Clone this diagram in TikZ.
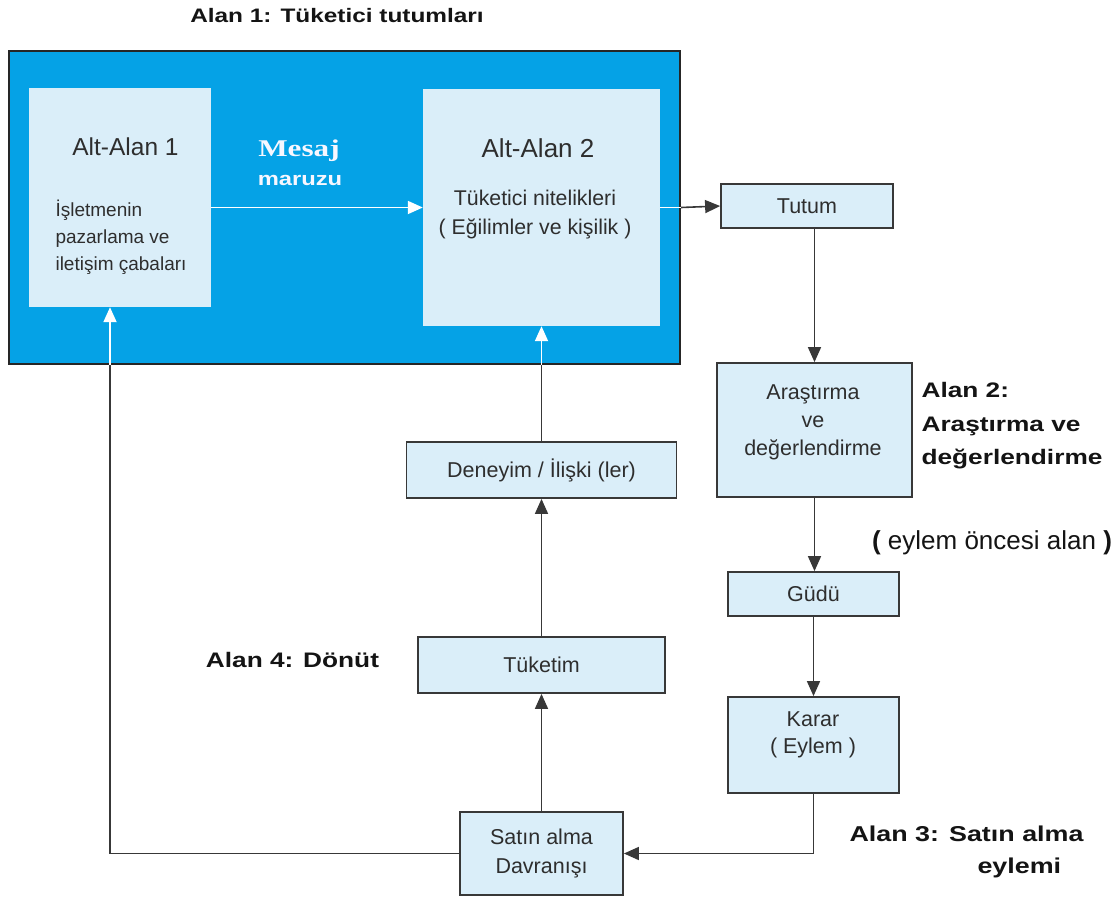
\documentclass[tikz,border=0pt]{standalone}
\usepackage{fontspec}
\setmainfont{Liberation Sans}
% the bold labels are set in a widened face
\newfontfamily\widesans[FakeStretch=1.25]{Liberation Sans}
\newfontfamily\wideserif[FakeStretch=1.3]{Liberation Serif}
\usetikzlibrary{arrows.meta,calc}

\definecolor{outerblue}{HTML}{05A2E6}
\definecolor{paleblue}{HTML}{DAEEF9}
\definecolor{edgegray}{HTML}{383838}
\definecolor{textgray}{HTML}{2E2E2E}

\begin{document}
\begin{tikzpicture}[x=1pt,y=-1pt,
  box/.style={draw=edgegray, line width=1.8pt, fill=paleblue, inner sep=0pt,
    font=\fontsize{21.5}{29}\selectfont, align=center, text=textgray},
  boxtext/.style={font=\fontsize{21.5}{28}\selectfont, align=center, text=textgray},
  subarea/.style={fill=paleblue, draw=none, inner sep=0pt},
  flow/.style={draw=edgegray, line width=1.6pt, -{Triangle[length=15pt,width=13pt]}},
  plainline/.style={draw=edgegray, line width=1.6pt},
  wflow/.style={draw=white, line width=1.8pt, -{Triangle[length=15pt,width=13pt]}},
  wline/.style={draw=white, line width=1.8pt},
  zone/.style={font=\widesans\fontsize{21}{33.5}\selectfont\bfseries, text=black!92},
]
\useasboundingbox (0,0) rectangle (1118,897);
\fill[white] (0,0) rectangle (1118,897);

% heading of the first area
\node[font=\widesans\fontsize{19.5}{22}\selectfont\bfseries, text=black!92] (title)
  at (337,16) {Alan 1: Tüketici tutumları};

% area 1 with its two sub-areas
\node[draw=black!85, line width=2pt, fill=outerblue, minimum width=671pt,
  minimum height=313pt, inner sep=0pt] (outer) at (344.5,207.5) {};
\node[subarea, minimum width=182pt, minimum height=219pt] (alt1) at (120,197.5) {};
\node[subarea, minimum width=237pt, minimum height=237pt] (alt2) at (541.5,207.5) {};

\node[font=\fontsize{24.5}{28}\selectfont, text=textgray] (alt1head) at (125.5,147) {Alt-Alan 1};
\node[anchor=west, align=left, font=\fontsize{19}{27}\selectfont, text=textgray]
  (alt1text) at (52,237) {İşletmenin\\pazarlama ve\\iletişim çabaları};
\node[font=\fontsize{26}{28}\selectfont, text=textgray] (alt2head) at (538,148) {Alt-Alan 2};
\node[align=center, font=\fontsize{21.3}{29}\selectfont, text=textgray]
  (alt2text) at (535,215) {Tüketici nitelikleri\\( Eğilimler ve kişilik )};

\node[font=\wideserif\fontsize{24}{26}\selectfont\bfseries, text=white!97!blue] (mesaj)
  at (299,151) {Mesaj};
\node[font=\widesans\fontsize{19}{22}\selectfont\bfseries, text=white!97!blue] (maruz)
  at (300,180) {maruzu};

% process boxes
\node[box, minimum width=172pt, minimum height=44pt] (tutum) at (807,206) {Tutum};
\node[box, minimum width=195pt, minimum height=134pt] (arastirma) at (814.5,430) {};
\node[boxtext] (arastirmatext) at (813,422) {Araştırma\\ve\\değerlendirme};
\node[box, minimum width=171pt, minimum height=44pt] (gudu) at (813.5,594) {Güdü};
\node[box, minimum width=171pt, minimum height=96pt] (karar) at (813.5,745) {};
\node[boxtext, font=\fontsize{21.5}{27}\selectfont] (karartext) at (813,735) {Karar\\( Eylem )};
\node[box, minimum width=163pt, minimum height=83pt] (satin) at (541.5,853.5) {Satın alma\\Davranışı};
\node[box, minimum width=247pt, minimum height=56pt] (tuketim) at (541.5,665) {Tüketim};
\node[box, minimum width=270pt, minimum height=56pt] (deneyim) at (541.5,470) {Deneyim / İlişki (ler)};

% area labels
\node[zone, anchor=west, align=left] (alan2) at (918,426) {Alan 2:\\Araştırma ve\\değerlendirme};
\node[font=\fontsize{26}{28}\selectfont, text=black!92] (oncesi) at (992,543)
  {\textbf{(} eylem öncesi alan \textbf{)}};
\node[zone] (alan4) at (292.5,660) {Alan 4: Dönüt};
\node[zone, anchor=west, align=left, font=\widesans\fontsize{21.5}{32}\selectfont\bfseries] (alan3)
  at (846,852) {Alan 3: Satın alma\\\hspace*{128pt}eylemi};

% message exposure between the sub-areas
\draw[wflow] (alt1.east |- alt2.west) -- (alt2.west);

% from the consumer traits out to the attitude
\draw[wline] (alt2.east) -- (alt2.east -| outer.east);
\draw[flow] (alt2.east -| outer.east) -- (tutum.west);

% pre-action chain
\draw[flow] (tutum.south -| arastirma.north) -- (arastirma.north);
\draw[flow] (arastirma.south) -- (arastirma.south |- gudu.north);
\draw[flow] (gudu.south) -- (karar.north);
\draw[flow] (karar.south) |- (satin.east);

% feedback chain
\draw[flow] (satin.north) -- (tuketim.south);
\draw[flow] (tuketim.north) -- (deneyim.south);
\draw[plainline] (deneyim.north) -- (deneyim.north |- outer.south);
\draw[wflow] (deneyim.north |- outer.south) -- (deneyim.north |- alt2.south);

% back to the firm's efforts
\coordinate (loopcorner) at (110,853.5);
\draw[plainline] (satin.west) -- (loopcorner) -- (loopcorner |- outer.south);
\draw[wflow] (loopcorner |- outer.south) -- (loopcorner |- alt1.south);
\end{tikzpicture}
\end{document}
